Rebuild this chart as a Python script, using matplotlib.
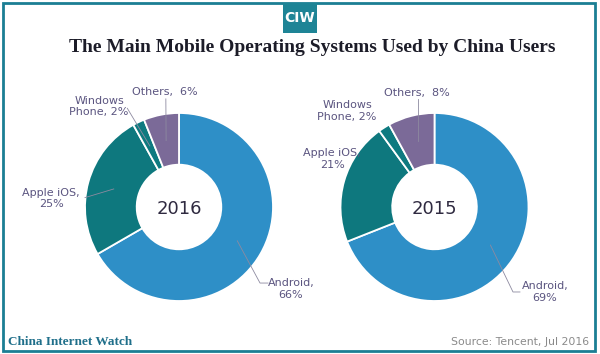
import matplotlib.pyplot as plt
from matplotlib.patches import Rectangle

# data
systems = ["Android", "Apple iOS", "Windows\nPhone", "Others"]
share_2016 = [66, 25, 2, 6]
share_2015 = [69, 21, 2, 8]
labels_2016 = ["Android,\n66%", "Apple iOS,\n25%", "Windows\nPhone, 2%", "Others,  6%"]
labels_2015 = ["Android,\n69%", "Apple iOS,\n21%", "Windows\nPhone, 2%", "Others,  8%"]

colors = ["#2e8fc7", "#0e787e", "#0e7a80", "#7b6a98"]
txt_col = "#5b5580"
W, H = 600, 354

fig = plt.figure(figsize=(6, 3.54), dpi=100)
fig.patch.set_facecolor("white")


def px_axes(cx, cy, r):
    # axes box around a donut given in pixel coords (y from top)
    return fig.add_axes([(cx - r) / W, (H - cy - r) / H, 2 * r / W, 2 * r / H])


def donut(cx, cy, values, labels, year, lab_pos, lines):
    ax = px_axes(cx, cy, 94)
    ax.pie(values, colors=colors, startangle=90, counterclock=False, radius=1,
           wedgeprops=dict(width=0.55, edgecolor="white", linewidth=1.3))
    ax.set_xlim(-1, 1)
    ax.set_ylim(-1, 1)
    ax.set_aspect("auto")
    ax.axis("off")
    ax.text(0, -0.02, year, ha="center", va="center", fontsize=13,
            color="#2f2a40", family="DejaVu Sans")
    for lab, (x, y) in zip(labels, lab_pos):
        ax.text(x, y, lab, ha="center", va="center", fontsize=8,
                color=txt_col, linespacing=1.2, clip_on=False)
    for pts in lines:
        xs = [p[0] for p in pts]
        ys = [p[1] for p in pts]
        ax.plot(xs, ys, color="#8d8aa0", lw=0.6, clip_on=False)


donut(179, 207, share_2016, labels_2016, "2016",
      [(1.19, -0.87), (-1.36, 0.09), (-0.85, 1.07), (-0.15, 1.225)],
      [[(0.947, -0.809), (0.862, -0.809), (0.62, -0.36)],
       [(-1.0, 0.10), (-0.694, 0.192)],
       [(-0.55, 1.05), (-0.31, 0.65)],
       [(-0.14, 1.15), (-0.137, 0.707)]])

donut(434.5, 207, share_2015, labels_2015, "2015",
      [(1.176, -0.904), (-1.09, 0.51), (-0.93, 1.02), (-0.186, 1.213)],
      [[(0.909, -0.904), (0.835, -0.904), (0.595, -0.405)],
       [(-0.179, 1.15), (-0.179, 0.697)]])

# frame and header
fig.add_artist(Rectangle((3 / W, 3 / H), 592 / W, 348 / H, transform=fig.transFigure,
                         fill=False, edgecolor="#1b7e94", lw=2))
fig.add_artist(Rectangle((283 / W, 1 - 33 / H), 34 / W, 30 / H, transform=fig.transFigure,
                         facecolor="#1e8496", edgecolor="none"))
fig.text(300 / W, 1 - 18 / H, "CIW", ha="center", va="center", color="white",
         fontsize=10, fontweight="bold", family="DejaVu Sans")

fig.text(312 / W, 1 - 47 / H, "The Main Mobile Operating Systems Used by China Users",
         ha="center", va="center", fontsize=14, fontweight="bold",
         family="Liberation Serif", color="#1c1c28")

fig.text(8 / W, 1 - 342 / H, "China Internet Watch", ha="left", va="center",
         fontsize=9.5, fontweight="bold", family="Liberation Serif", color="#1f6f8a")
fig.text(589 / W, 1 - 342 / H, "Source: Tencent, Jul 2016", ha="right", va="center",
         fontsize=7.8, color="#8a8a8a")

fig.savefig("out.png", dpi=100)
